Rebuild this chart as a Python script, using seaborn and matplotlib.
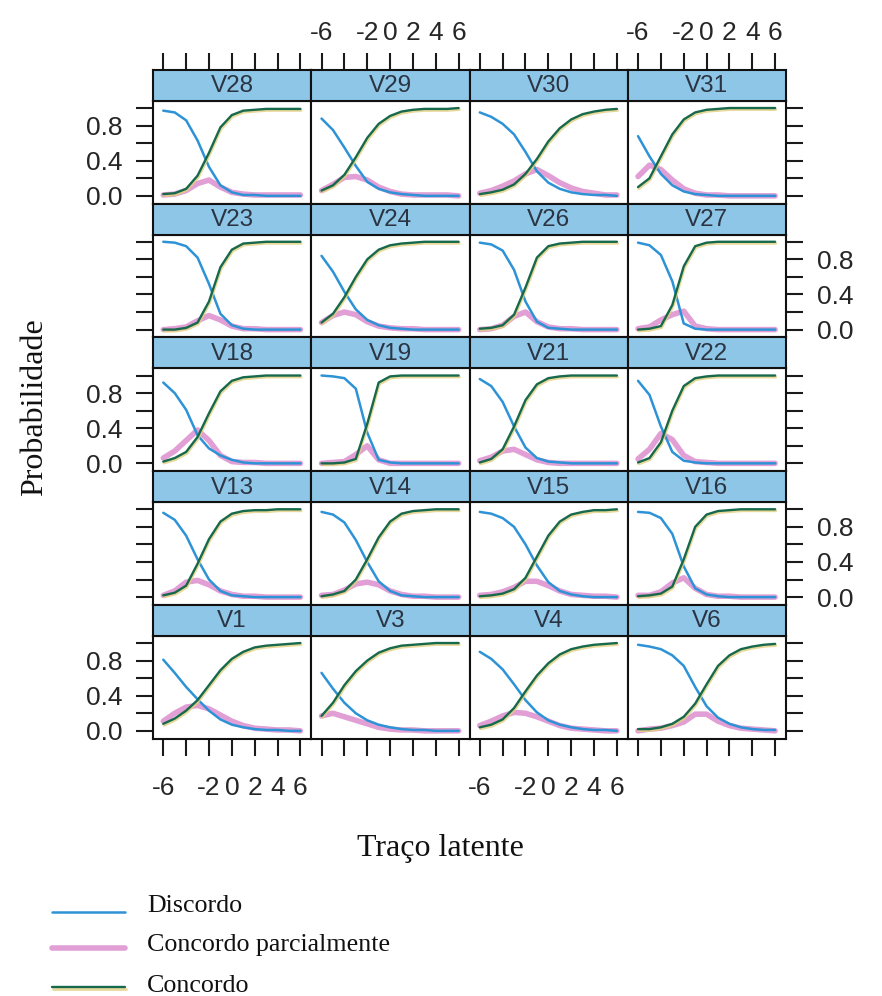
import matplotlib
matplotlib.use("Agg")
import matplotlib.pyplot as plt
import matplotlib.patheffects as pe
from matplotlib.lines import Line2D
import seaborn as sns

# Latent trait grid
theta = [-6, -5, -4, -3, -2, -1, 0, 1, 2, 3, 4, 5, 6]

# Panel layout (rows top to bottom)
panel_rows = [
    ["V28", "V29", "V30", "V31"],
    ["V23", "V24", "V26", "V27"],
    ["V18", "V19", "V21", "V22"],
    ["V13", "V14", "V15", "V16"],
    ["V1", "V3", "V4", "V6"],
]

categories = ["Discordo", "Concordo parcialmente", "Concordo"]

# Category response probabilities per item
discordo = {
    "V28": [0.97, 0.95, 0.86, 0.63, 0.33, 0.12, 0.04, 0.01, 0.01, 0.00, 0.00, 0.00, 0.00],
    "V29": [0.88, 0.75, 0.55, 0.34, 0.16, 0.08, 0.04, 0.02, 0.01, 0.00, 0.00, 0.00, 0.00],
    "V30": [0.95, 0.90, 0.82, 0.70, 0.50, 0.28, 0.15, 0.08, 0.04, 0.02, 0.01, 0.01, 0.00],
    "V31": [0.68, 0.45, 0.25, 0.12, 0.05, 0.02, 0.01, 0.00, 0.00, 0.00, 0.00, 0.00, 0.00],
    "V23": [1.00, 0.99, 0.95, 0.82, 0.52, 0.18, 0.05, 0.01, 0.00, 0.00, 0.00, 0.00, 0.00],
    "V24": [0.84, 0.66, 0.43, 0.23, 0.11, 0.05, 0.02, 0.01, 0.00, 0.00, 0.00, 0.00, 0.00],
    "V26": [0.99, 0.97, 0.90, 0.68, 0.32, 0.09, 0.02, 0.01, 0.00, 0.00, 0.00, 0.00, 0.00],
    "V27": [0.99, 0.96, 0.85, 0.55, 0.07, 0.01, 0.00, 0.00, 0.00, 0.00, 0.00, 0.00, 0.00],
    "V18": [0.92, 0.80, 0.61, 0.32, 0.17, 0.09, 0.04, 0.01, 0.00, 0.00, 0.00, 0.00, 0.00],
    "V19": [1.00, 0.99, 0.97, 0.85, 0.35, 0.04, 0.01, 0.00, 0.00, 0.00, 0.00, 0.00, 0.00],
    "V21": [0.96, 0.88, 0.70, 0.42, 0.18, 0.06, 0.02, 0.01, 0.00, 0.00, 0.00, 0.00, 0.00],
    "V22": [0.94, 0.78, 0.42, 0.13, 0.03, 0.01, 0.00, 0.00, 0.00, 0.00, 0.00, 0.00, 0.00],
    "V13": [0.96, 0.88, 0.70, 0.43, 0.20, 0.07, 0.02, 0.01, 0.00, 0.00, 0.00, 0.00, 0.00],
    "V14": [0.97, 0.94, 0.85, 0.65, 0.40, 0.18, 0.07, 0.02, 0.01, 0.00, 0.00, 0.00, 0.00],
    "V15": [0.97, 0.95, 0.90, 0.80, 0.60, 0.36, 0.17, 0.07, 0.03, 0.01, 0.00, 0.00, 0.00],
    "V16": [0.97, 0.96, 0.90, 0.72, 0.35, 0.10, 0.03, 0.01, 0.00, 0.00, 0.00, 0.00, 0.00],
    "V1":  [0.81, 0.66, 0.50, 0.36, 0.23, 0.13, 0.07, 0.04, 0.02, 0.01, 0.01, 0.00, 0.00],
    "V3":  [0.66, 0.48, 0.32, 0.20, 0.12, 0.07, 0.04, 0.02, 0.01, 0.01, 0.00, 0.00, 0.00],
    "V4":  [0.90, 0.82, 0.70, 0.53, 0.35, 0.21, 0.12, 0.07, 0.04, 0.02, 0.01, 0.01, 0.00],
    "V6":  [0.98, 0.96, 0.93, 0.86, 0.74, 0.50, 0.28, 0.15, 0.08, 0.04, 0.02, 0.01, 0.01],
}

parcial = {
    "V28": [0.01, 0.02, 0.06, 0.14, 0.18, 0.10, 0.04, 0.02, 0.01, 0.01, 0.01, 0.01, 0.01],
    "V29": [0.06, 0.13, 0.21, 0.22, 0.18, 0.10, 0.05, 0.02, 0.01, 0.01, 0.01, 0.01, 0.00],
    "V30": [0.03, 0.06, 0.11, 0.17, 0.25, 0.30, 0.23, 0.15, 0.09, 0.05, 0.03, 0.01, 0.01],
    "V31": [0.22, 0.35, 0.30, 0.18, 0.08, 0.03, 0.01, 0.01, 0.00, 0.00, 0.00, 0.00, 0.00],
    "V23": [0.00, 0.01, 0.03, 0.10, 0.16, 0.11, 0.04, 0.01, 0.01, 0.00, 0.00, 0.00, 0.00],
    "V24": [0.08, 0.16, 0.20, 0.17, 0.09, 0.04, 0.02, 0.01, 0.01, 0.00, 0.00, 0.00, 0.00],
    "V26": [0.00, 0.01, 0.05, 0.15, 0.20, 0.09, 0.03, 0.01, 0.01, 0.00, 0.00, 0.00, 0.00],
    "V27": [0.01, 0.03, 0.11, 0.17, 0.21, 0.04, 0.01, 0.00, 0.00, 0.00, 0.00, 0.00, 0.00],
    "V18": [0.06, 0.14, 0.26, 0.38, 0.26, 0.09, 0.02, 0.01, 0.01, 0.00, 0.00, 0.00, 0.00],
    "V19": [0.00, 0.01, 0.02, 0.10, 0.20, 0.04, 0.00, 0.00, 0.00, 0.00, 0.00, 0.00, 0.00],
    "V21": [0.03, 0.07, 0.14, 0.16, 0.10, 0.04, 0.01, 0.00, 0.00, 0.00, 0.00, 0.00, 0.00],
    "V22": [0.05, 0.16, 0.34, 0.27, 0.09, 0.02, 0.01, 0.00, 0.00, 0.00, 0.00, 0.00, 0.00],
    "V13": [0.02, 0.07, 0.17, 0.19, 0.14, 0.07, 0.03, 0.01, 0.01, 0.00, 0.00, 0.00, 0.00],
    "V14": [0.02, 0.03, 0.08, 0.15, 0.17, 0.14, 0.07, 0.03, 0.01, 0.01, 0.00, 0.00, 0.00],
    "V15": [0.02, 0.03, 0.06, 0.11, 0.18, 0.18, 0.13, 0.07, 0.03, 0.02, 0.01, 0.01, 0.00],
    "V16": [0.02, 0.02, 0.06, 0.16, 0.22, 0.10, 0.03, 0.01, 0.01, 0.00, 0.00, 0.00, 0.00],
    "V1":  [0.11, 0.20, 0.27, 0.29, 0.25, 0.18, 0.11, 0.06, 0.03, 0.02, 0.01, 0.01, 0.00],
    "V3":  [0.17, 0.20, 0.16, 0.12, 0.08, 0.04, 0.02, 0.01, 0.01, 0.00, 0.00, 0.00, 0.00],
    "V4":  [0.06, 0.11, 0.17, 0.21, 0.20, 0.16, 0.11, 0.06, 0.03, 0.02, 0.01, 0.00, 0.00],
    "V6":  [0.00, 0.02, 0.03, 0.06, 0.10, 0.19, 0.19, 0.11, 0.06, 0.03, 0.02, 0.01, 0.00],
}

concordo = {
    "V28": [0.02, 0.03, 0.08, 0.23, 0.49, 0.78, 0.92, 0.97, 0.98, 0.99, 0.99, 0.99, 0.99],
    "V29": [0.06, 0.12, 0.24, 0.44, 0.66, 0.82, 0.91, 0.96, 0.98, 0.99, 0.99, 0.99, 1.00],
    "V30": [0.02, 0.04, 0.07, 0.13, 0.25, 0.42, 0.62, 0.77, 0.87, 0.93, 0.96, 0.98, 0.99],
    "V31": [0.10, 0.20, 0.45, 0.70, 0.87, 0.95, 0.98, 0.99, 1.00, 1.00, 1.00, 1.00, 1.00],
    "V23": [0.00, 0.00, 0.02, 0.08, 0.32, 0.71, 0.91, 0.98, 0.99, 1.00, 1.00, 1.00, 1.00],
    "V24": [0.08, 0.18, 0.37, 0.60, 0.80, 0.91, 0.96, 0.98, 0.99, 1.00, 1.00, 1.00, 1.00],
    "V26": [0.01, 0.02, 0.05, 0.17, 0.48, 0.82, 0.95, 0.98, 0.99, 1.00, 1.00, 1.00, 1.00],
    "V27": [0.00, 0.01, 0.04, 0.28, 0.72, 0.95, 0.99, 1.00, 1.00, 1.00, 1.00, 1.00, 1.00],
    "V18": [0.02, 0.06, 0.13, 0.30, 0.57, 0.82, 0.94, 0.98, 0.99, 1.00, 1.00, 1.00, 1.00],
    "V19": [0.00, 0.00, 0.01, 0.05, 0.45, 0.92, 0.99, 1.00, 1.00, 1.00, 1.00, 1.00, 1.00],
    "V21": [0.01, 0.05, 0.16, 0.42, 0.72, 0.90, 0.97, 0.99, 1.00, 1.00, 1.00, 1.00, 1.00],
    "V22": [0.01, 0.06, 0.24, 0.60, 0.88, 0.97, 0.99, 1.00, 1.00, 1.00, 1.00, 1.00, 1.00],
    "V13": [0.02, 0.05, 0.13, 0.38, 0.66, 0.86, 0.95, 0.98, 0.99, 0.99, 1.00, 1.00, 1.00],
    "V14": [0.01, 0.03, 0.07, 0.20, 0.43, 0.68, 0.86, 0.95, 0.98, 0.99, 1.00, 1.00, 1.00],
    "V15": [0.01, 0.02, 0.04, 0.09, 0.22, 0.46, 0.70, 0.86, 0.94, 0.97, 0.99, 0.99, 1.00],
    "V16": [0.01, 0.02, 0.04, 0.12, 0.43, 0.80, 0.94, 0.98, 0.99, 1.00, 1.00, 1.00, 1.00],
    "V1":  [0.08, 0.14, 0.23, 0.35, 0.52, 0.69, 0.82, 0.90, 0.95, 0.97, 0.98, 0.99, 1.00],
    "V3":  [0.17, 0.32, 0.52, 0.68, 0.80, 0.89, 0.94, 0.97, 0.98, 0.99, 1.00, 1.00, 1.00],
    "V4":  [0.04, 0.07, 0.13, 0.26, 0.45, 0.63, 0.77, 0.87, 0.93, 0.96, 0.98, 0.99, 1.00],
    "V6":  [0.02, 0.02, 0.04, 0.08, 0.16, 0.31, 0.53, 0.74, 0.86, 0.93, 0.96, 0.98, 0.99],
}

x_ticks = [-6, -4, -2, 0, 2, 4, 6]
x_tick_labels = ["-6", "", "-2", "0", "2", "4", "6"]
y_ticks = [0.0, 0.2, 0.4, 0.6, 0.8, 1.0]
y_tick_labels = ["0.0", "", "0.4", "", "0.8", ""]

col_blue = "#2d93d6"
col_pink = "#d77fc7"
col_green = "#17694c"
col_gold = "#e3cf80"
col_strip = "#8ec6e8"

sns.set_style("white")
plt.rcParams["font.family"] = ["Liberation Sans", "DejaVu Sans"]

W, H = 882, 996
fig = plt.figure(figsize=(W / 100, H / 100), dpi=100)
fig.patch.set_facecolor("white")


def px_box(x0, y0, x1, y1):
    return [x0 / W, 1 - y1 / H, (x1 - x0) / W, (y1 - y0) / H]


green_fx = [pe.SimpleLineShadow(offset=(0.5, -1.1), shadow_color=col_gold,
                                alpha=0.8, linewidth=2.0), pe.Normal()]

left0, col_w = 153.0, 158.25
top0, row_h, strip_h = 70.0, 133.75, 31.0
xlim = (-6.9, 6.95)
ylim = (-0.09, 1.08)
tick_kw = dict(length=12, width=1.5, color="#1a1a1a", labelsize=19,
               labelcolor="#262626")

for r, row in enumerate(panel_rows):
    for c, name in enumerate(row):
        x0 = left0 + c * col_w
        x1 = x0 + col_w
        st = top0 + r * row_h
        pt = st + strip_h
        pb = st + row_h

        ax = fig.add_axes(px_box(x0, pt, x1, pb))
        sax = fig.add_axes(px_box(x0, st, x1, pt))

        sns.lineplot(x=theta, y=parcial[name], ax=ax, color=col_pink,
                     linewidth=4.0, alpha=0.75, legend=False)
        sns.lineplot(x=theta, y=discordo[name], ax=ax, color=col_blue,
                     linewidth=1.8, legend=False)
        sns.lineplot(x=theta, y=concordo[name], ax=ax, color=col_green,
                     linewidth=1.7, legend=False, path_effects=green_fx)

        ax.set_xlim(*xlim)
        ax.set_ylim(*ylim)
        ax.set_xticks(x_ticks)
        ax.set_xticklabels(x_tick_labels)
        ax.set_yticks(y_ticks)
        ax.set_yticklabels(y_tick_labels)
        ax.set_xlabel("")
        ax.set_ylabel("")
        ax.set_facecolor("white")

        ax.tick_params(axis="y", direction="out", pad=10,
                       left=(c == 0), right=(c == 3),
                       labelleft=(c == 0 and r % 2 == 0),
                       labelright=(c == 3 and r % 2 == 1), **tick_kw)
        ax.tick_params(axis="x", direction="out", pad=15,
                       bottom=(r == 4), top=False,
                       labelbottom=(r == 4 and c % 2 == 0), labeltop=False,
                       **tick_kw)

        sax.set_facecolor(col_strip)
        sax.set_xlim(*xlim)
        sax.set_ylim(0, 1)
        sax.set_yticks([])
        sax.set_xticks(x_ticks)
        sax.set_xticklabels(x_tick_labels)
        sax.tick_params(axis="x", direction="out", pad=6,
                        top=(r == 0), bottom=False,
                        labeltop=(r == 0 and c % 2 == 1), labelbottom=False,
                        **tick_kw)
        sax.text(0.5, 0.47, name, ha="center", va="center", fontsize=17.5,
                 color="#2a3442", transform=sax.transAxes)

        for a in (ax, sax):
            for sp in a.spines.values():
                sp.set_visible(True)
                sp.set_color("#111111")
                sp.set_linewidth(1.5)

serif = ["Liberation Serif", "DejaVu Serif"]
fig.text(35 / W, 1 - 407 / H, "Probabilidade", rotation=90, ha="center",
         va="center", fontsize=23, family=serif, color="#111111")
fig.text(440 / W, 1 - 856 / H, "Traço latente", ha="center", va="baseline",
         fontsize=23, family=serif, color="#111111")

# Key below the panels
legend_styles = [
    dict(color=col_blue, linewidth=1.8),
    dict(color=col_pink, linewidth=4.0, alpha=0.75),
    dict(color=col_green, linewidth=1.7, path_effects=green_fx),
]
line_y = [912, 948, 987]
text_y = [912, 951, 992]
for label, style, ly, ty in zip(categories, legend_styles, line_y, text_y):
    fig.add_artist(Line2D([52 / W, 125 / W], [1 - ly / H, 1 - ly / H], **style))
    fig.text(147 / W, 1 - ty / H, label, ha="left", va="baseline",
             fontsize=18.7, family=serif, color="#111111")

fig.savefig("out.png", dpi=100, facecolor="white")
